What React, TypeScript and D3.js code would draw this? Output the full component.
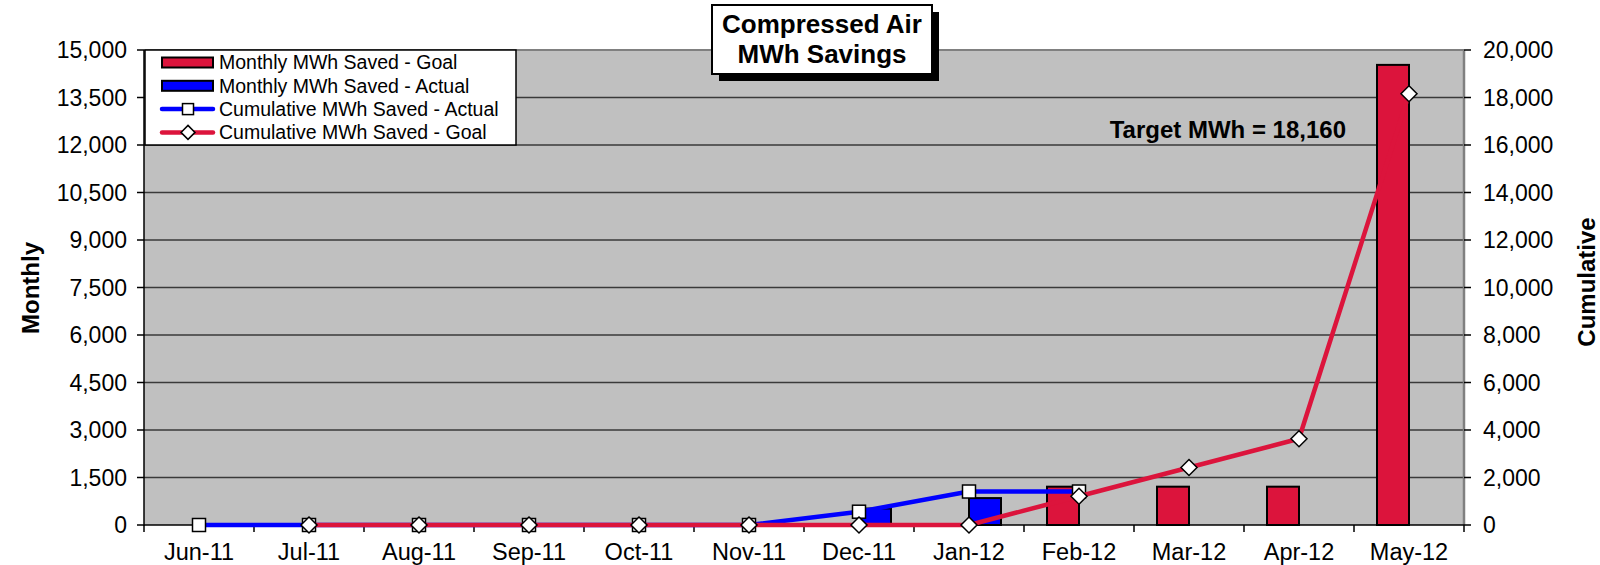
import React from "react";
import * as d3 from "d3";

const months = ["Jun-11", "Jul-11", "Aug-11", "Sep-11", "Oct-11", "Nov-11", "Dec-11", "Jan-12", "Feb-12", "Mar-12", "Apr-12", "May-12"];
const monthlyGoal: (number | null)[] = [0, 0, 0, 0, 0, 0, 0, 0, 1210, 1210, 1210, 14530];
const monthlyActual: (number | null)[] = [0, 0, 0, 0, 0, 0, 520, 850, 0, null, null, null];
const cumActual: (number | null)[] = [0, 0, 0, 0, 0, 0, 560, 1410, 1410, null, null, null];
const cumGoal: (number | null)[] = [null, 0, 0, 0, 0, 0, 0, 0, 1210, 2420, 3630, 18160];
const leftTicks = d3.range(0, 15001, 1500);
const rightTicks = d3.range(0, 20001, 2000);
const legendItems = ["Monthly MWh Saved - Goal", "Monthly MWh Saved - Actual", "Cumulative MWh Saved - Actual", "Cumulative MWh Saved - Goal"];
const titleLines = ["Compressed Air", "MWh Savings"];
const targetLabel = "Target MWh = 18,160";

const RED = "#DC143C";
const BLUE = "#0000FF";
const FONT = "'Liberation Sans', Arial, sans-serif";

export default function App() {
  const W = 1600, H = 565;
  const L = 144, R = 1464, T = 50, B = 525;
  const x = d3.scaleBand<string>().domain(months).range([L, R]).padding(0);
  const bw = x.bandwidth();
  const cx = (m: string) => (x(m) as number) + bw / 2;
  const yL = d3.scaleLinear().domain([0, 15000]).range([B, T]);
  const yR = d3.scaleLinear().domain([0, 20000]).range([B, T]);
  const barW = 32;
  const fmt = d3.format(",");

  const lineGen = (vals: (number | null)[]) =>
    d3.line<[string, number | null]>()
      .defined((d) => d[1] !== null)
      .x((d) => cx(d[0]))
      .y((d) => yR(d[1] as number))(months.map((m, i) => [m, vals[i]]));

  const diamond = (px: number, py: number, r: number) =>
    `M${px},${py - r}L${px + r},${py}L${px},${py + r}L${px - r},${py}Z`;

  return (
    <svg width={W} height={H} style={{ position: "absolute", left: 0, top: 0, background: "#fff" }} fontFamily={FONT}>
      {/* plot area */}
      <rect x={L} y={T} width={R - L} height={B - T} fill="#C0C0C0" />
      {leftTicks.filter((t) => t > 0).map((t) => (
        <line key={"g" + t} x1={L} x2={R} y1={yL(t)} y2={yL(t)} stroke="#3a3a3a" strokeWidth={1.5} />
      ))}
      <line x1={L} x2={R} y1={T} y2={T} stroke="#808080" strokeWidth={2} />
      <line x1={R} x2={R} y1={T} y2={B} stroke="#808080" strokeWidth={2.5} />

      {/* bars */}
      {months.map((m, i) => {
        const g = monthlyGoal[i];
        const a = monthlyActual[i];
        return (
          <g key={"b" + m}>
            {g !== null && g > 0 && (
              <rect x={cx(m) - barW} y={yL(g)} width={barW} height={B - yL(g)} fill={RED} stroke="#000" strokeWidth={2} />
            )}
            {a !== null && a > 0 && (
              <rect x={cx(m)} y={yL(a)} width={barW} height={B - yL(a)} fill={BLUE} stroke="#000" strokeWidth={2} />
            )}
          </g>
        );
      })}

      {/* axes */}
      <line x1={L} x2={L} y1={T} y2={B + 1} stroke="#000" strokeWidth={1.5} />
      <line x1={L} x2={R} y1={B} y2={B} stroke="#000" strokeWidth={1.5} />
      {leftTicks.map((t) => (
        <g key={"lt" + t}>
          <line x1={L - 7} x2={L} y1={yL(t)} y2={yL(t)} stroke="#000" strokeWidth={1.5} />
          <text x={127} y={yL(t)} dy="0.35em" textAnchor="end" fontSize={23}>{fmt(t)}</text>
        </g>
      ))}
      {rightTicks.map((t) => (
        <g key={"rt" + t}>
          <line x1={R} x2={R + 7} y1={yR(t)} y2={yR(t)} stroke="#000" strokeWidth={1.5} />
          <text x={1483} y={yR(t)} dy="0.35em" textAnchor="start" fontSize={23}>{fmt(t)}</text>
        </g>
      ))}
      {months.map((m) => (
        <text key={"xl" + m} x={cx(m)} y={560} textAnchor="middle" fontSize={23.5}>{m}</text>
      ))}
      {d3.range(0, months.length + 1).map((i) => (
        <line key={"xt" + i} x1={L + i * bw} x2={L + i * bw} y1={B} y2={B + 7} stroke="#000" strokeWidth={1.5} />
      ))}

      {/* lines */}
      <path d={lineGen(cumActual) || ""} fill="none" stroke={BLUE} strokeWidth={4.5} strokeLinejoin="round" />
      {months.map((m, i) =>
        cumActual[i] !== null ? (
          <rect key={"sq" + m} x={cx(m) - 6.5} y={yR(cumActual[i] as number) - 6.5} width={13} height={13} fill="#fff" stroke="#000" strokeWidth={1.5} />
        ) : null
      )}
      <path d={lineGen(cumGoal) || ""} fill="none" stroke={RED} strokeWidth={4.5} strokeLinejoin="round" />
      {months.map((m, i) =>
        cumGoal[i] !== null ? (
          <path key={"dm" + m} d={diamond(cx(m), yR(cumGoal[i] as number), 8)} fill="#fff" stroke="#000" strokeWidth={1.5} />
        ) : null
      )}

      {/* target label */}
      <text x={1346} y={138} textAnchor="end" fontSize={24} fontWeight="bold">{targetLabel}</text>

      {/* axis titles */}
      <text transform="translate(39,288) rotate(-90)" textAnchor="middle" fontSize={24} fontWeight="bold">Monthly</text>
      <text transform="translate(1595,282) rotate(-90)" textAnchor="middle" fontSize={24} fontWeight="bold">Cumulative</text>

      {/* legend */}
      <rect x={145} y={50} width={371} height={95} fill="#fff" stroke="#000" strokeWidth={1.5} />
      {legendItems.map((s, i) => {
        const ly = 62.5 + i * 23.3;
        let sym: React.ReactNode;
        if (i === 0 || i === 1) {
          sym = <rect x={162} y={ly - 5} width={51} height={10} fill={i === 0 ? RED : BLUE} stroke="#000" strokeWidth={2} />;
        } else if (i === 2) {
          sym = (
            <g>
              <line x1={162} x2={213} y1={ly} y2={ly} stroke={BLUE} strokeWidth={4.5} strokeLinecap="round" />
              <rect x={182.5} y={ly - 5.5} width={11} height={11} fill="#fff" stroke="#000" strokeWidth={1.5} />
            </g>
          );
        } else {
          sym = (
            <g>
              <line x1={162} x2={213} y1={ly} y2={ly} stroke={RED} strokeWidth={4.5} strokeLinecap="round" />
              <path d={diamond(188, ly, 7)} fill="#fff" stroke="#000" strokeWidth={1.5} />
            </g>
          );
        }
        return (
          <g key={"lg" + i}>
            {sym}
            <text x={219} y={ly} dy="0.35em" fontSize={19.5}>{s}</text>
          </g>
        );
      })}

      {/* title */}
      <rect x={719} y={12} width={220} height={69} fill="#000" />
      <rect x={712} y={5} width={220} height={69} fill="#fff" stroke="#000" strokeWidth={2} />
      {titleLines.map((s, i) => (
        <text key={"t" + i} x={822} y={33 + i * 30} textAnchor="middle" fontSize={26} fontWeight="bold">{s}</text>
      ))}
    </svg>
  );
}
